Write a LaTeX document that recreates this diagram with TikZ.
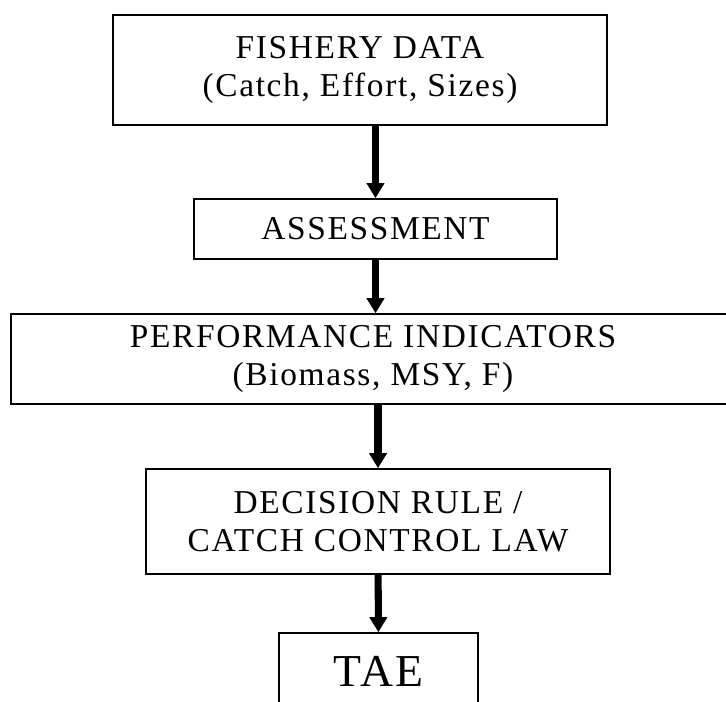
\documentclass[tikz,border=0pt]{standalone}
\usepackage{fontspec}
\setmainfont{Liberation Serif}
\newfontfamily\boxfont[LetterSpace=5]{Liberation Serif}
\usetikzlibrary{arrows.meta}

\begin{document}
\begin{tikzpicture}
    \useasboundingbox (0,0) rectangle (14.52,-14.04);
    \begin{scope}[every node/.style={rectangle,draw=black,line width=0.9pt,inner sep=0pt,
        align=center,font=\boxfont\fontsize{19}{21.3}\selectfont}]
      \node[minimum width=9.88cm,minimum height=2.2cm] (fish) at (7.2,-1.4)
           {FISHERY DATA\\(Catch, Effort, Sizes)};
      \node[minimum width=7.26cm,minimum height=1.2cm] (assess) at (7.51,-4.58) {ASSESSMENT};
      \node[minimum width=14.48cm,minimum height=1.8cm] (perf) at (7.46,-7.18)
           {PERFORMANCE INDICATORS\\(Biomass, MSY, F)};
      \node[minimum width=9.28cm,minimum height=2.1cm] (rule) at (7.56,-10.43)
           {DECISION RULE /\\CATCH CONTROL LAW};
      \node[minimum width=3.98cm,minimum height=1.54cm,
            font=\boxfont\fontsize{26}{30}\selectfont] (tae) at (7.57,-13.43) {TAE};
    \end{scope}

    \begin{scope}[>={Triangle[length=0.3cm,width=0.34cm]},
        every edge/.style={draw=black,line width=4pt}]
      \path [->] (fish.south -| assess) edge (assess);
      \path [->] (assess.south) edge (assess.south |- perf.north);
      \path [->] (perf.south -| rule) edge (rule);
      \path [->] (rule) edge (tae);
      %\path [->] (rule.south) edge (tae.north);
    \end{scope}
  \end{tikzpicture}
\end{document}
